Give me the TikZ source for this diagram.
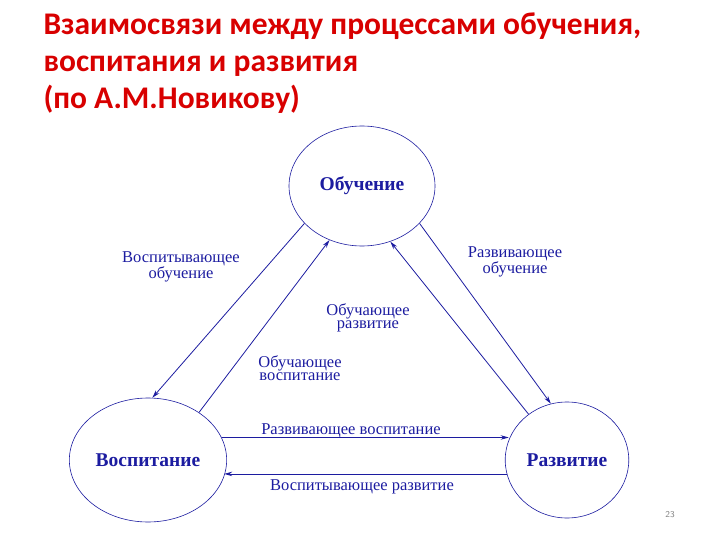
\documentclass[tikz,border=0pt]{standalone}
\usepackage{fontspec}
\setmainfont{Liberation Serif}
\newfontfamily\titlefont{Carlito}
\usetikzlibrary{shapes.geometric,arrows.meta}
\definecolor{dblue}{HTML}{1C1CA0}
\definecolor{tred}{HTML}{D80000}
\tikzset{
  circ/.style={ellipse,draw=dblue,semithick,text=dblue,font=\bfseries\fontsize{19.5}{21}\selectfont},
  lbl/.style={text=dblue,font=\fontsize{16.5}{13}\selectfont,align=center},
  conn/.style={draw=dblue,thick,-{Stealth[length=8pt,width=4.5pt]}},
}
\begin{document}
\begin{tikzpicture}[x=1pt,y=-1pt]
\useasboundingbox (0,0) rectangle (720,540);
\node[anchor=north west,align=left,text=tred,font=\titlefont\bfseries\fontsize{31.5}{37}\selectfont] (title) at (40,9)
 {Взаимосвязи между процессами обучения,\\воспитания и развития\\(по А.М.Новикову)};
\node[circ,minimum width=146,minimum height=120] (ob) at (362,186) {Обучение};
\node[circ,minimum width=150,minimum height=124] (vo) at (148,460) {Воспитание};
\node[circ,minimum width=120,minimum height=116] (ra) at (567,460) {Развитие};
\draw[conn] (ob.213) -- (vo.86);
\draw[conn] (vo.43) -- (ob.239);
\draw[conn] (ob.327) -- (ra.106);
\draw[conn] (ra.130) -- (ob.297);
\draw[conn] (vo.17) -- (ra.161 |- vo.17);
\draw[conn] (ra.193) -- (vo.-12 |- ra.193);
\node[lbl] (l1) at (181,267) {Воспитывающее\\обучение};
\node[lbl] (l2) at (300,368) {Обучающее\\воспитание};
\node[lbl] (l3) at (515,262) {Развивающее\\обучение};
\node[lbl] (l4) at (368,318) {Обучающее\\развитие};
\node[lbl] (l5) at (351,431) {Развивающее воспитание};
\node[lbl] (l6) at (362,487) {Воспитывающее развитие};
\node[text=gray,font=\sffamily\fontsize{9}{10}\selectfont] (pg) at (670,515) {23};
\end{tikzpicture}
\end{document}
